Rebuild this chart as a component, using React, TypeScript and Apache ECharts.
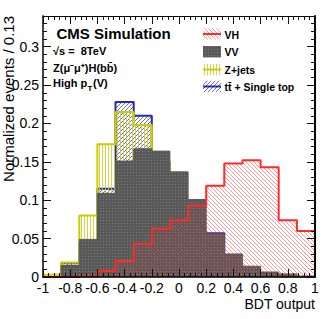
import React, { useEffect, useRef } from 'react';
import * as echarts from 'echarts';

// ---- data ----
const binLowEdges = [-1, -0.867, -0.733, -0.6, -0.467, -0.333, -0.2, -0.067, 0.067, 0.2, 0.333, 0.467, 0.6, 0.733, 0.867];
const xUpper = 1;
const vhValues = [0, 0, 0.001, 0.008, 0.021, 0.043, 0.063, 0.074, 0.093, 0.119, 0.148, 0.152, 0.143, 0.074, 0.060];
const vvValues = [0, 0.015, 0.049, 0.109, 0.151, 0.167, 0.164, 0.137, 0.101, 0.056, 0.030, 0.014, 0.0065, 0.004, 0.0013];
const zjetsValues = [0.003, 0.019, 0.080, 0.173, 0.215, 0.198, 0.150, 0.090, 0.045, 0.020, 0.005, 0.002, 0.001, 0, 0];
const ttValues = [0, 0.018, 0.045, 0.115, 0.228, 0.210, 0.150, 0.100, 0.055, 0.057, 0.015, 0.005, 0.002, 0, 0];
const legendNames = ['VH', 'VV', 'Z+jets', 'tt\u0304 + Single top'];

const FONT = '"Liberation Sans", Arial, Helvetica, sans-serif';

function histPoints(values: number[]) {
  const pts: number[][] = [[binLowEdges[0], 0]];
  values.forEach((v, i) => pts.push([binLowEdges[i], v]));
  pts.push([xUpper, values[values.length - 1]]);
  pts.push([xUpper, 0]);
  return pts;
}

function makePattern(w: number, h: number, bg: string | null, draw: (ctx: CanvasRenderingContext2D) => void) {
  const c = document.createElement('canvas');
  c.width = w;
  c.height = h;
  const ctx = c.getContext('2d')!;
  if (bg) {
    ctx.fillStyle = bg;
    ctx.fillRect(0, 0, w, h);
  }
  draw(ctx);
  return { image: c.toDataURL(), repeat: 'repeat', imageWidth: w, imageHeight: h } as any;
}

export default function App() {
  const ref = useRef<HTMLDivElement>(null);
  useEffect(() => {
    document.body.style.margin = '0';
    const chart = echarts.init(ref.current!, undefined, { renderer: 'svg' });

    const redHatch = makePattern(4, 4, null, (ctx) => {
      ctx.fillStyle = 'rgba(255,50,50,0.5)';
      for (let i = 0; i < 4; i++) ctx.fillRect(i, i, 1, 1);
    });
    const blueHatch = makePattern(4, 4, null, (ctx) => {
      ctx.fillStyle = 'rgba(40,50,190,0.7)';
      for (let i = 0; i < 4; i++) ctx.fillRect(3 - i, i, 1, 1);
    });
    const yellowHatch = makePattern(3, 3, null, (ctx) => {
      ctx.fillStyle = 'rgba(205,205,40,0.85)';
      ctx.fillRect(0, 0, 1, 3);
    });
    const grayPat = makePattern(3, 3, '#595959', (ctx) => {
      ctx.fillStyle = '#7e7e7e';
      ctx.fillRect(1, 1, 1, 1);
    });

    const axisCommon = {
      z: 10,
      splitLine: { show: false },
    };

    const xAxisBase = (pos: 'bottom' | 'top', labels: boolean, lw: number) => ({
      ...axisCommon,
      type: 'value',
      min: -1,
      max: 1,
      interval: 0.2,
      position: pos,
      axisLine: { show: true, onZero: false, lineStyle: { color: '#000', width: lw } },
      axisTick: { show: true, inside: true, length: 8, lineStyle: { color: '#111', width: 1 } },
      minorTick: { show: true, splitNumber: 5, length: 4, lineStyle: { color: '#111', width: 1 } },
      axisLabel: {
        show: labels,
        fontSize: 14,
        lineHeight: 11,
        fontFamily: FONT,
        color: '#000',
        margin: 5,
        formatter: (v: number) => String(Math.round(v * 10) / 10),
      },
    });

    const yAxisBase = (pos: 'left' | 'right', labels: boolean, lw: number, col: string) => ({
      ...axisCommon,
      type: 'value',
      min: 0,
      max: 0.34,
      interval: 0.05,
      position: pos,
      axisLine: { show: true, onZero: false, lineStyle: { color: col, width: lw } },
      axisTick: { show: true, inside: true, length: 8, lineStyle: { color: '#111', width: 1 } },
      minorTick: { show: true, splitNumber: 5, length: 4, lineStyle: { color: '#111', width: 1 } },
      axisLabel: {
        show: labels,
        showMaxLabel: false,
        fontSize: 14,
        lineHeight: 10,
        fontFamily: FONT,
        color: '#000',
        margin: 4,
        formatter: (v: number) => String(parseFloat(v.toFixed(2))),
      },
    });

    const series = [
      { name: legendNames[3], data: histPoints(ttValues), color: '#2a2ab0', fill: blueHatch, lw: 2, z: 2 },
      { name: legendNames[2], data: histPoints(zjetsValues), color: '#cccc00', fill: yellowHatch, lw: 2, z: 3 },
      { name: legendNames[1], data: histPoints(vvValues), color: '#595959', fill: grayPat, lw: 1, z: 4 },
      { name: legendNames[0], data: histPoints(vhValues), color: '#ff2a2a', fill: redHatch, lw: 2, z: 5 },
    ].map((s) => ({
      type: 'line',
      name: s.name,
      data: s.data,
      step: 'end',
      z: s.z,
      symbol: 'none',
      showSymbol: false,
      lineStyle: { color: s.color, width: s.lw },
      itemStyle: { color: s.color },
      areaStyle: { color: s.fill, opacity: 1 },
      silent: true,
    }));

    const legendX = 203;
    const legendRows = [34, 51.7, 69.5, 86.5];
    const legendFills = [redHatch, grayPat, yellowHatch, blueHatch];
    const legendLines = ['#ff2a2a', null, '#cccc00', '#2a2ab0'];
    const legendGraphics: any[] = [];
    legendNames.forEach((name, i) => {
      const cy = legendRows[i];
      legendGraphics.push({
        type: 'rect',
        shape: { x: legendX, y: cy - 5.7, width: 18, height: 11.4 },
        style: { fill: legendFills[i] },
        z: 20,
      });
      if (legendLines[i]) {
        legendGraphics.push({
          type: 'line',
          shape: { x1: legendX, y1: cy, x2: legendX + 18, y2: cy },
          style: { stroke: legendLines[i], lineWidth: 2 },
          z: 21,
        });
      }
      legendGraphics.push({
        type: 'text',
        x: 224.5,
        y: cy + 0.5,
        style: { text: name, font: `bold 10.5px ${FONT}`, fill: '#000', align: 'left', verticalAlign: 'middle' },
        z: 21,
      });
    });

    const txt = (text: string, x: number, y: number, font: string, extra: any = {}) => ({
      type: 'text',
      x,
      y,
      z: 21,
      style: { text, font, fill: '#000', align: 'left', verticalAlign: 'middle', ...extra },
    });

    chart.setOption({
      animation: false,
      grid: { left: 43, right: 17, top: 16, bottom: 42, show: false },
      xAxis: [xAxisBase('bottom', true, 1.5), xAxisBase('top', false, 1)],
      yAxis: [yAxisBase('left', true, 2, '#444'), yAxisBase('right', false, 2, '#000')],
      series,
      graphic: [
        txt('CMS Simulation', 56.5, 33, `bold 15px ${FONT}`),
        txt('\u221As =  8TeV', 53, 51, `bold 11px ${FONT}`),
        txt('Z(\u03BC\u207B\u03BC\u207A)H(bb\u0304)', 53, 67.5, `bold 11px ${FONT}`),
        txt('High p', 53, 83, `bold 11px ${FONT}`),
        txt('T', 87.5, 88.5, `bold 8px ${FONT}`),
        txt('(V)', 93, 83, `bold 11px ${FONT}`),
        {
          type: 'text',
          x: 8.5,
          y: 16,
          rotation: Math.PI / 2,
          z: 21,
          style: { text: 'Normalized events / 0.13', font: `15px ${FONT}`, fill: '#000', align: 'right', verticalAlign: 'middle' },
        },
        {
          type: 'text',
          x: 315,
          y: 304,
          z: 21,
          style: { text: 'BDT output', font: `14px ${FONT}`, fill: '#000', align: 'right', verticalAlign: 'middle' },
        },
        ...legendGraphics,
      ],
    });
    return () => chart.dispose();
  }, []);
  return <div ref={ref} style={{ position: 'fixed', left: 0, top: 0, width: 332, height: 319, background: '#fff' }} />;
}
